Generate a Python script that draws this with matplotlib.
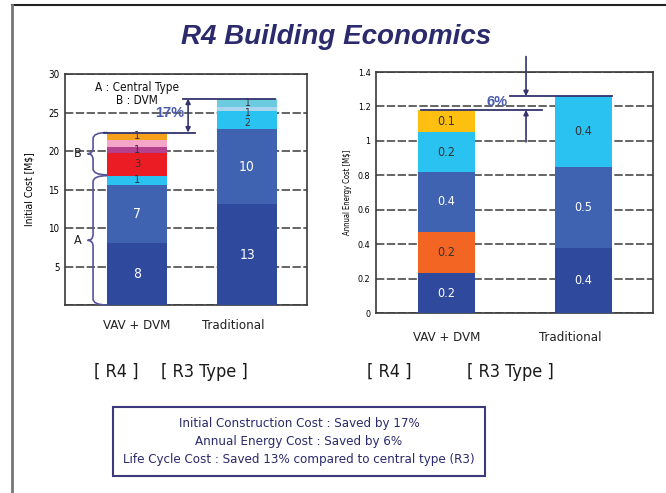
import matplotlib
matplotlib.use('Agg')
import matplotlib.pyplot as plt
from matplotlib.path import Path
from matplotlib.patches import PathPatch, Rectangle
from matplotlib.lines import Line2D

plt.rcParams['font.family'] = ['DejaVu Sans']
plt.rcParams['font.stretch'] = 'condensed'

# ---- data ----
categories = ['VAV + DVM', 'Traditional']

# initial cost [M$], stacked bottom -> top
cost_vav = [8.1, 7.5, 1.2, 3.0, 0.7, 0.9, 1.0]
cost_vav_labels = ['8', '7', '1', '3', '1', '', '1']
cost_trad = [13.1, 9.7, 2.4, 0.5, 1.1]
cost_trad_labels = ['13', '10', '2', '1', '1']

# annual energy cost [M$]
energy_vav = [0.23, 0.24, 0.35, 0.23, 0.13]
energy_vav_labels = ['0.2', '0.2', '0.4', '0.2', '0.1']
energy_trad = [0.38, 0.47, 0.41]
energy_trad_labels = ['0.4', '0.5', '0.4']

cost_ticks = [0, 5, 10, 15, 20, 25, 30]
energy_ticks = [0, 0.2, 0.4, 0.6, 0.8, 1.0, 1.2, 1.4]
energy_ticklabels = ['0', '0.2', '0.4', '0.6', '0.8', '1', '1.2', '1.4']

DARK = '#2F4A9C'
MID = '#3F63B0'
LIGHT = '#2AC2F0'
cost_vav_colors = [DARK, MID, LIGHT, '#EC1C24', '#B3418D', '#F4A5C8', '#F7A11A']
cost_trad_colors = [DARK, MID, LIGHT, '#A9D6EE', '#6DCBE0']
energy_vav_colors = [DARK, '#F26522', MID, LIGHT, '#FDC010']
energy_trad_colors = [DARK, MID, LIGHT]
white_on = {DARK, MID}

NAVY = '#2A2A6C'
ANNO = '#34346E'
PCT = '#4A5AB2'


def stack(ax, x, vals, colors, labels, width, fs, big=None, frac=None):
    bottom = 0
    for i, (v, c, lab) in enumerate(zip(vals, colors, labels)):
        ax.bar(x, v, width, bottom=bottom, color=c, zorder=3)
        if lab:
            f = frac[i] if frac else 0.5
            size = big if (big and c in white_on) else fs
            ax.text(x, bottom + v * f, lab, ha='center', va='center', fontsize=size,
                    color='white' if c in white_on else '#333333', zorder=4)
        bottom += v
    return bottom


def brace(ax, xb, xt, xe, y0, y1, r):
    ym = (y0 + y1) / 2
    verts = [(xe, y0), (xb, y0), (xb, y0 + r), (xb, ym - r), (xb, ym), (xt, ym),
             (xb, ym), (xb, ym + r), (xb, y1 - r), (xb, y1), (xe, y1)]
    codes = [Path.MOVETO, Path.CURVE3, Path.CURVE3, Path.LINETO, Path.CURVE3, Path.CURVE3,
             Path.CURVE3, Path.CURVE3, Path.LINETO, Path.CURVE3, Path.CURVE3]
    ax.add_patch(PathPatch(Path(verts, codes), fill=False, edgecolor='#55559A',
                           lw=1.2, zorder=5, clip_on=False))
    return ym


def style(ax, trad_pos):
    ax.grid(axis='y', color='#4A4A4A', linestyle=(0, (5, 1.5)), lw=1.2)
    ax.set_axisbelow(True)
    for s in ax.spines.values():
        s.set_color('#3A3A3A')
        s.set_linewidth(1.2)
    ax.tick_params(length=0, labelsize=7, pad=4)
    ax.set_xticks([0, trad_pos])
    ax.set_xticklabels(categories, fontsize=9.5, color='#222222')
    ax.tick_params(axis='x', pad=10)


fig = plt.figure(figsize=(6.66, 4.93), dpi=100)

# ---- left: initial cost ----
ax1 = fig.add_axes([0.0976, 0.3813, 0.3634, 0.4686])
w1 = 0.545
top_vav = stack(ax1, 0, cost_vav, cost_vav_colors, cost_vav_labels, w1, 8, big=10)
top_trad = stack(ax1, 1, cost_trad, cost_trad_colors, cost_trad_labels, w1, 7.5, big=10,
                 frac=[0.5, 0.5, 0.33, -0.6, 0.5])
ax1.set_xlim(-0.655, 1.545)
ax1.set_ylim(0, 30)
ax1.set_yticks(cost_ticks)
ax1.set_yticklabels([''] + [str(t) for t in cost_ticks[1:]])
ax1.set_ylabel('Initial Cost [M$]', fontsize=7.5, labelpad=10)
style(ax1, 0.87)

split = sum(cost_vav[:3])
ya = brace(ax1, -0.4, -0.45, -0.27, 0, split, 0.8)
yb = brace(ax1, -0.4, -0.45, -0.27, split + 0.1, top_vav, 0.8)
ax1.text(-0.54, ya, 'A', ha='center', va='center', fontsize=9, color='#222222')
ax1.text(-0.54, yb, 'B', ha='center', va='center', fontsize=9, color='#222222')
ax1.plot([-0.3, 0.53], [top_vav, top_vav], color=ANNO, lw=1.3, zorder=5)
ax1.plot([0.42, 1.25], [top_trad, top_trad], color=ANNO, lw=1.3, zorder=5)
ax1.annotate('', xy=(0.464, top_trad), xytext=(0.464, top_vav),
             arrowprops=dict(arrowstyle='<|-|>', color=ANNO, lw=1.2,
                             mutation_scale=7, shrinkA=0, shrinkB=0), zorder=6)
ax1.text(0.3, 24.9, '17%', ha='center', va='center', fontsize=10.5,
         fontweight='bold', color=PCT, family=['Liberation Sans'], stretch='normal')
ax1.text(0.0, 28.3, 'A : Central Type', ha='center', va='center', fontsize=8.5,
         color='#111111')
ax1.text(0.0, 26.6, 'B : DVM', ha='center', va='center', fontsize=8.5, color='#111111')

# ---- right: annual energy cost ----
ax2 = fig.add_axes([0.5646, 0.3651, 0.4159, 0.4888])
w2 = 0.41
top_evav = stack(ax2, 0, energy_vav, energy_vav_colors, energy_vav_labels, w2, 9)
top_etrad = stack(ax2, 1, energy_trad, energy_trad_colors, energy_trad_labels, w2, 9)
ax2.set_xlim(-0.515, 1.507)
ax2.set_ylim(0, 1.4)
ax2.set_yticks(energy_ticks)
ax2.set_yticklabels(energy_ticklabels)
ax2.set_ylabel('Annual Energy Cost [M$]', fontsize=5.5, labelpad=4)
style(ax2, 0.9)
ax2.tick_params(axis='y', labelsize=6.5)
ax2.tick_params(axis='x', pad=13)

ax2.plot([-0.19, 0.70], [top_evav, top_evav], color=ANNO, lw=1.3, zorder=5)
ax2.plot([0.46, 1.21], [top_etrad, top_etrad], color=ANNO, lw=1.3, zorder=5)
ax2.annotate('', xy=(0.58, top_etrad), xytext=(0.58, 1.49), annotation_clip=False,
             arrowprops=dict(arrowstyle='-|>', color=ANNO, lw=1.2,
                             mutation_scale=7, shrinkA=0, shrinkB=0), zorder=6)
ax2.annotate('', xy=(0.58, top_evav), xytext=(0.58, 0.994),
             arrowprops=dict(arrowstyle='-|>', color=ANNO, lw=1.2,
                             mutation_scale=7, shrinkA=0, shrinkB=0), zorder=6)
ax2.text(0.37, 1.227, '6%', ha='center', va='center', fontsize=10.5,
         fontweight='bold', color=PCT, family=['Liberation Sans'], stretch='normal')

# ---- slide decorations ----
fig.add_artist(Line2D([12 / 666, 1], [1 - 5 / 493, 1 - 5 / 493], color='#222222', lw=1.5))
fig.add_artist(Line2D([12 / 666, 12 / 666], [0, 1 - 5 / 493], color='#777777', lw=2))
fig.text(336 / 666, 1 - 37 / 493, 'R4 Building Economics', ha='center', va='center',
         fontsize=20, fontweight='bold', fontstyle='italic', color=NAVY,
         family=['Liberation Sans'], stretch='normal')

for x, s in [(116, '[ R4 ]'), (204, '[ R3 Type ]'), (389, '[ R4 ]'), (510, '[ R3 Type ]')]:
    fig.text(x / 666, 1 - 372 / 493, s, ha='center', va='center', fontsize=13,
             color='#1A1A1A')

fig.add_artist(Rectangle((113 / 666, 1 - 476 / 493), 372 / 666, 69 / 493,
                         fill=False, edgecolor='#3B3B7B', lw=1.5,
                         transform=fig.transFigure))
summary = ['Initial Construction Cost : Saved by 17%',
           'Annual Energy Cost : Saved by 6%',
           'Life Cycle Cost : Saved 13% compared to central type (R3)']
for i, s in enumerate(summary):
    fig.text(299 / 666, 1 - (423 + 18.5 * i) / 493, s, ha='center', va='center',
             fontsize=9.5, color=NAVY)

fig.savefig('out.png', dpi=100)
